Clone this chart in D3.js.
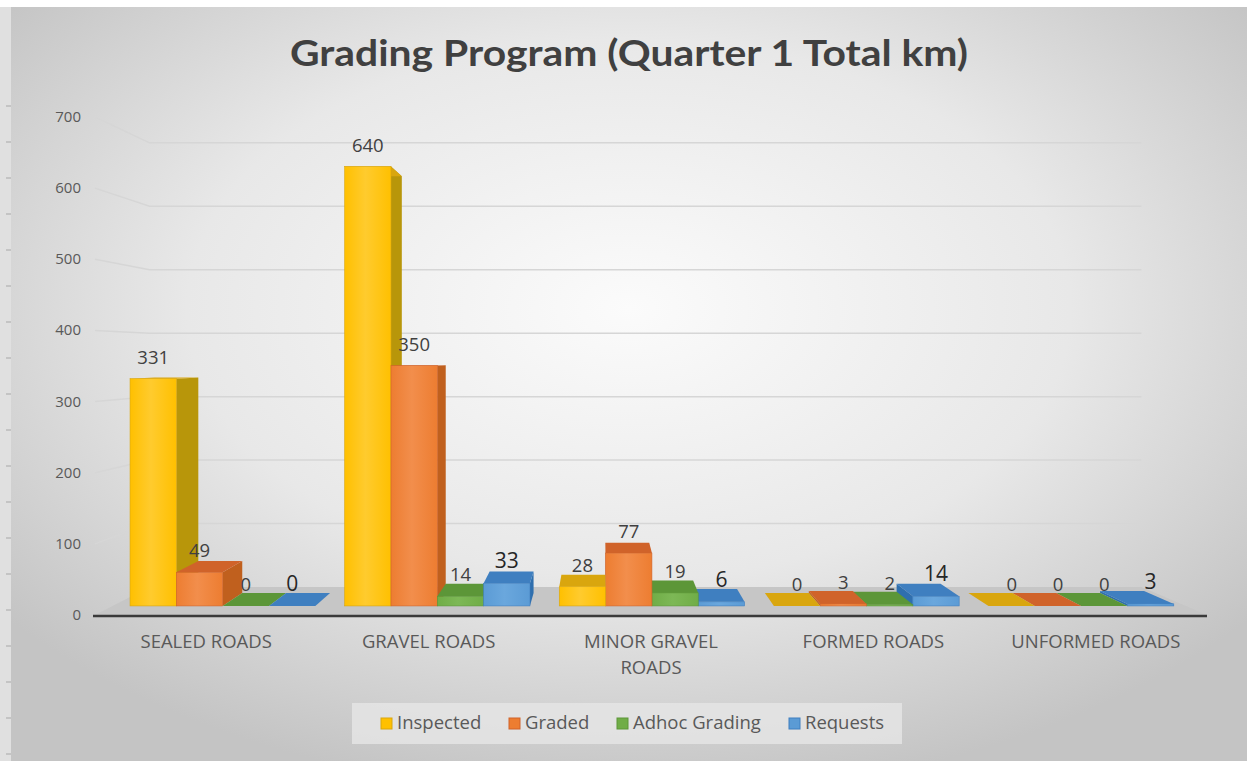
<!DOCTYPE html>
<html>
<head>
<meta charset="utf-8">
<script src="https://cdn.jsdelivr.net/npm/d3@7"></script>
<style>
  html, body { margin: 0; padding: 0; background: #fff; }
  svg { display: block; font-family: "Open Sans", Lato, sans-serif; }
</style>
</head>
<body>
<div class="chart"></div>
<script>
// DATA
const categories = ["SEALED ROADS", "GRAVEL ROADS", "MINOR GRAVEL ROADS", "FORMED ROADS", "UNFORMED ROADS"];
const seriesNames = ["Inspected", "Graded", "Adhoc Grading", "Requests"];
const inspected = [331, 640, 28, 0, 0];
const graded = [49, 350, 77, 3, 0];
const adhocGrading = [0, 14, 19, 2, 0];
const requests = [0, 33, 6, 14, 3];
const yTicks = [0, 100, 200, 300, 400, 500, 600, 700];

const seriesValues = [inspected, graded, adhocGrading, requests];

// Setup
const width = 1247, height = 761;
const palette = [
  { front: "#FFC000", light: "#FFCB2E", top: "#D9A60E", side: "#B8960A" },
  { front: "#ED7D31", light: "#F28E4C", top: "#D0632A", side: "#C0601E" },
  { front: "#70AD47", light: "#7DB856", top: "#5C9638", side: "#4E8A30" },
  { front: "#5B9BD5", light: "#6AA7DD", top: "#3F7FC0", side: "#2F6FAE" }
];

// perspective: points on floor-front plane shrink toward a vanishing point
const vx = 600, vy = 356;
const fBarFront = 0.965, fBarBack = 0.915, fWall = 0.892;
const proj = (X, Y, f) => [vx + (X - vx) * f, vy + (Y - vy) * f];

const x0 = d3.scaleBand().domain(categories).range([95, 1207]);
const x1 = d3.scaleBand().domain(seriesNames).range([18, 210]);
const y = d3.scaleLinear().domain([0, 700]).range([615, 117]);

const svg = d3.select(".chart").append("svg")
  .attr("width", width).attr("height", height);

// Background
const defs = svg.append("defs");
const bg = defs.append("radialGradient").attr("id", "bg")
  .attr("cx", "50%").attr("cy", "40%").attr("r", "65%");
bg.append("stop").attr("offset", "0%").attr("stop-color", "#fbfbfb");
bg.append("stop").attr("offset", "55%").attr("stop-color", "#e8e8e8");
bg.append("stop").attr("offset", "100%").attr("stop-color", "#c4c4c4");

palette.forEach((c, i) => {
  const g = defs.append("linearGradient").attr("id", "bar" + i)
    .attr("x1", "0%").attr("x2", "100%").attr("y1", "0%").attr("y2", "0%");
  g.append("stop").attr("offset", "0%").attr("stop-color", c.front);
  g.append("stop").attr("offset", "45%").attr("stop-color", c.light);
  g.append("stop").attr("offset", "100%").attr("stop-color", c.front);
});

svg.append("rect").attr("x", 0).attr("y", 7).attr("width", 11).attr("height", height - 7)
  .attr("fill", "#e0e0e0");
svg.append("g").selectAll("line")
  .data(d3.range(106, height, 36))
  .join("line")
  .attr("x1", 6).attr("x2", 11).attr("y1", d => d).attr("y2", d => d)
  .attr("stroke", "#a8a8a8").attr("stroke-width", 1);
svg.append("rect").attr("x", 11).attr("y", 7).attr("width", width - 11).attr("height", height - 7)
  .attr("fill", "url(#bg)");

// Title
svg.append("text")
  .attr("x", 629).attr("y", 66)
  .attr("text-anchor", "middle")
  .attr("font-family", "Lato, sans-serif")
  .attr("font-size", 36).attr("font-weight", 700)
  .attr("fill", "#404040")
  .attr("textLength", 678).attr("lengthAdjust", "spacingAndGlyphs")
  .text("Grading Program (Quarter 1 Total km)");

// Floor
const xL = x0.range()[0], xR = x0.range()[1];
const floorPts = [proj(xL, y(0), 1), proj(xR, y(0), 1), proj(xR, y(0), fWall), proj(xL, y(0), fWall)];
svg.append("polygon")
  .attr("points", floorPts.map(p => p.join(",")).join(" "))
  .attr("fill", "#c6c6c6");

// Gridlines on left wall and back wall
svg.append("g").selectAll("polyline")
  .data(yTicks.slice(1))
  .join("polyline")
  .attr("points", d => [proj(xL, y(d), 1), proj(xL, y(d), fWall), proj(xR, y(d), fWall)]
    .map(p => p.join(",")).join(" "))
  .attr("fill", "none").attr("stroke", "#d6d6d6").attr("stroke-width", 1.5);

// Y tick labels
svg.append("g").selectAll("text")
  .data(yTicks)
  .join("text")
  .attr("x", 81).attr("y", d => y(d) + 5)
  .attr("text-anchor", "end")
  .attr("font-size", 15).attr("fill", "#595959")
  .text(d => d);

// Bars
const bars = [];
categories.forEach((cat, ci) => {
  seriesNames.forEach((s, si) => {
    const X0 = x0(cat) + x1(s), X1 = X0 + x1.bandwidth();
    bars.push({ ci, si, X0, X1, value: seriesValues[si][ci] });
  });
});
bars.sort((a, b) => Math.abs((b.X0 + b.X1) / 2 - vx) - Math.abs((a.X0 + a.X1) / 2 - vx));

const poly = pts => pts.map(p => p.join(",")).join(" ");
const barG = svg.append("g");
bars.forEach(b => {
  const c = palette[b.si];
  const yt = y(b.value), yb = y(0);
  const fTL = proj(b.X0, yt, fBarFront), fTR = proj(b.X1, yt, fBarFront);
  const fBL = proj(b.X0, yb, fBarFront), fBR = proj(b.X1, yb, fBarFront);
  const bTL = proj(b.X0, yt, fBarBack), bTR = proj(b.X1, yt, fBarBack);
  const bBL = proj(b.X0, yb, fBarBack), bBR = proj(b.X1, yb, fBarBack);
  const g = barG.append("g");
  // side face
  if (b.X1 < vx) {
    g.append("polygon").attr("points", poly([fTR, bTR, bBR, fBR])).attr("fill", c.side);
  } else if (b.X0 > vx) {
    g.append("polygon").attr("points", poly([fTL, bTL, bBL, fBL])).attr("fill", c.side);
  }
  // top face
  g.append("polygon").attr("points", poly([fTL, fTR, bTR, bTL])).attr("fill", c.top);
  // front face
  if (b.value > 0) {
    g.append("rect")
      .attr("x", fTL[0]).attr("y", fTL[1])
      .attr("width", fTR[0] - fTL[0]).attr("height", fBL[1] - fTL[1])
      .attr("fill", `url(#bar${b.si})`)
      .attr("stroke", c.top).attr("stroke-width", 0.6);
  }
  b.labelX = (fTL[0] + fTR[0]) / 2;
  b.labelY = fTL[1] - 15;
});

// Axis line along front of floor
svg.append("line")
  .attr("x1", xL - 2).attr("x2", xR).attr("y1", y(0) + 1).attr("y2", y(0) + 1)
  .attr("stroke", "#3a3a3a").attr("stroke-width", 2.5);

// Data labels
svg.append("g").selectAll("text")
  .data(bars)
  .join("text")
  .attr("x", d => d.labelX).attr("y", d => d.labelY)
  .attr("text-anchor", "middle")
  .attr("font-size", d => d.si === 3 ? 21 : 18.5)
  .attr("fill", d => d.si === 3 ? "#262626" : "#404040")
  .text(d => d.value);

// Category labels
const catLabels = svg.append("g").selectAll("text")
  .data(categories)
  .join("text")
  .attr("x", d => x0(d) + x0.bandwidth() / 2)
  .attr("y", 648)
  .attr("text-anchor", "middle")
  .attr("font-size", 18.5).attr("fill", "#595959");
catLabels.each(function (d) {
  const t = d3.select(this);
  const lines = d === "MINOR GRAVEL ROADS" ? ["MINOR GRAVEL", "ROADS"] : [d];
  lines.forEach((l, i) => {
    t.append("tspan").attr("x", x0(d) + x0.bandwidth() / 2).attr("dy", i === 0 ? 0 : 26).text(l);
  });
});

// Legend
const legend = svg.append("g").attr("class", "legend");
legend.append("rect")
  .attr("x", 352).attr("y", 703).attr("width", 550).attr("height", 41)
  .attr("fill", "#e6e6e6").attr("opacity", 0.8);
const legendX = [381, 509, 617, 789];
const items = legend.selectAll("g.item")
  .data(seriesNames)
  .join("g").attr("class", "item")
  .attr("transform", (d, i) => `translate(${legendX[i]},723)`);
items.append("rect")
  .attr("x", 0).attr("y", -5).attr("width", 11).attr("height", 11)
  .attr("fill", (d, i) => palette[i].front)
  .attr("stroke", (d, i) => palette[i].top).attr("stroke-width", 1);
items.append("text")
  .attr("x", 16).attr("y", 6)
  .attr("font-size", 18.5).attr("fill", "#595959")
  .text(d => d);
</script>
</body>
</html>
